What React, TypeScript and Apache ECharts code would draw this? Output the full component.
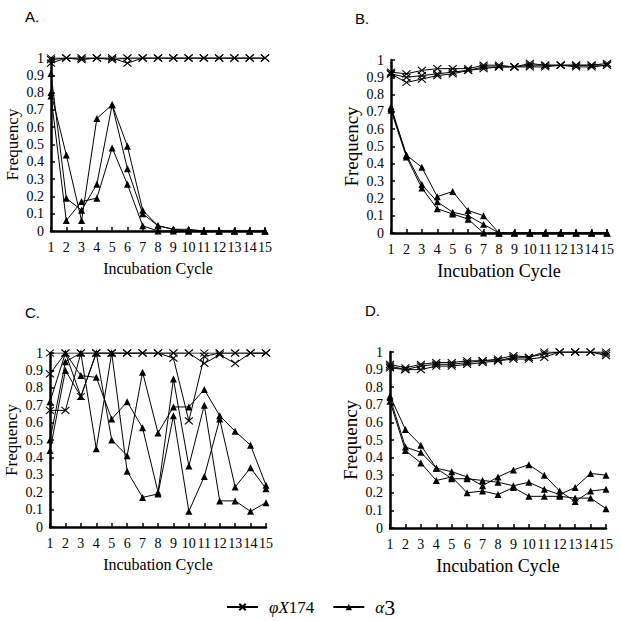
import React, { useEffect, useRef } from "react";
import * as echarts from "echarts";

const cycles = [1, 2, 3, 4, 5, 6, 7, 8, 9, 10, 11, 12, 13, 14, 15];
const panelLabels = ["A.", "B.", "C.", "D."];
const xTitle = "Incubation Cycle";
const yTitle = "Frequency";
const phiName = "φX174";
const alphaName = "α3";

// Panel A
const A_phi1 = [0.97, 1, 1, 1, 1, 1, 1, 1, 1, 1, 1, 1, 1, 1, 1];
const A_phi2 = [1, 1, 1, 1, 1, 0.97, 1, 1, 1, 1, 1, 1, 1, 1, 1];
const A_phi3 = [0.99, 1, 0.99, 1, 0.99, 1, 1, 1, 1, 1, 1, 1, 1, 1, 1];
const A_a1 = [0.91, 0.19, 0.12, 0.27, 0.73, 0.36, 0.1, 0.03, 0.01, 0.01, 0, 0, 0, 0, 0];
const A_a2 = [0.8, 0.44, 0.06, 0.65, 0.73, 0.49, 0.12, 0.03, 0.01, 0, 0, 0, 0, 0, 0];
const A_a3 = [0.78, 0.06, 0.17, 0.19, 0.48, 0.27, 0.03, 0.0, 0, 0, 0, 0, 0, 0, 0];

// Panel B
const B_phi1 = [0.93, 0.92, 0.94, 0.95, 0.95, 0.95, 0.97, 0.97, 0.96, 0.98, 0.97, 0.97, 0.97, 0.97, 0.98];
const B_phi2 = [0.92, 0.9, 0.91, 0.92, 0.93, 0.94, 0.96, 0.96, 0.96, 0.97, 0.97, 0.97, 0.97, 0.97, 0.97];
const B_phi3 = [0.92, 0.87, 0.89, 0.91, 0.92, 0.94, 0.95, 0.96, 0.96, 0.96, 0.96, 0.97, 0.96, 0.96, 0.97];
const B_a1 = [0.73, 0.45, 0.38, 0.21, 0.24, 0.13, 0.1, 0, 0, 0, 0, 0, 0, 0, 0];
const B_a2 = [0.72, 0.45, 0.28, 0.18, 0.12, 0.1, 0.05, 0, 0, 0, 0, 0, 0, 0, 0];
const B_a3 = [0.71, 0.44, 0.26, 0.14, 0.11, 0.08, 0, 0, 0, 0, 0, 0, 0, 0, 0];

// Panel C
const C_phi1 = [0.88, 1, 0.75, 1, 1, 1, 1, 1, 0.97, 0.61, 0.98, 1, 1, 1, 1];
const C_phi2 = [1, 1, 1, 1, 1, 1, 1, 1, 1, 1, 0.94, 0.99, 0.94, 1, 1];
const C_phi3 = [0.67, 0.67, 1, 1, 1, 1, 1, 1, 1, 1, 1, 1, 1, 1, 1];
const C_a1 = [0.44, 0.9, 0.75, 1, 0.5, 0.41, 0.89, 0.54, 0.69, 0.69, 0.79, 0.64, 0.55, 0.47, 0.24];
const C_a2 = [0.72, 1, 0.87, 0.86, 0.62, 0.72, 0.57, 0.2, 0.85, 0.35, 0.7, 0.15, 0.15, 0.09, 0.14];
const C_a3 = [0.5, 0.95, 1, 0.45, 1, 0.32, 0.17, 0.19, 0.64, 0.09, 0.29, 0.62, 0.23, 0.34, 0.22];

// Panel D
const D_phi1 = [0.93, 0.91, 0.93, 0.94, 0.94, 0.95, 0.95, 0.96, 0.98, 0.97, 1, 1, 1, 1, 1];
const D_phi2 = [0.92, 0.9, 0.92, 0.93, 0.93, 0.94, 0.95, 0.95, 0.97, 0.97, 0.99, 1, 1, 1, 0.99];
const D_phi3 = [0.91, 0.9, 0.9, 0.92, 0.92, 0.93, 0.94, 0.95, 0.96, 0.96, 0.97, 1, 1, 1, 0.98];
const D_a1 = [0.75, 0.56, 0.47, 0.34, 0.32, 0.29, 0.24, 0.29, 0.33, 0.36, 0.3, 0.21, 0.15, 0.21, 0.22];
const D_a2 = [0.74, 0.46, 0.43, 0.34, 0.28, 0.28, 0.27, 0.26, 0.24, 0.26, 0.22, 0.19, 0.23, 0.31, 0.3];
const D_a3 = [0.72, 0.44, 0.37, 0.27, 0.29, 0.2, 0.21, 0.19, 0.23, 0.18, 0.18, 0.18, 0.17, 0.17, 0.11];

const panels = [
  { phi: [A_phi1, A_phi2, A_phi3], alpha: [A_a1, A_a2, A_a3] },
  { phi: [B_phi1, B_phi2, B_phi3], alpha: [B_a1, B_a2, B_a3] },
  { phi: [C_phi1, C_phi2, C_phi3], alpha: [C_a1, C_a2, C_a3] },
  { phi: [D_phi1, D_phi2, D_phi3], alpha: [D_a1, D_a2, D_a3] },
];

const grids = [
  { left: 51, top: 58, width: 214, height: 173 },
  { left: 391, top: 60, width: 216, height: 173 },
  { left: 50, top: 353, width: 216, height: 174 },
  { left: 390, top: 352, width: 216, height: 176 },
];
const titlePos = [
  { left: 20, top: 4 },
  { left: 350, top: 6 },
  { left: 20, top: 300 },
  { left: 360, top: 298 },
];
const xNameSize = [16, 18, 16, 18];
const yNameSize = [17, 19, 17, 19];

const SERIF = "'Liberation Serif', 'Times New Roman', serif";
const X_SYMBOL = "path://M0,0L10,10M10,0L0,10";

export default function App() {
  const ref = useRef<HTMLDivElement>(null);
  useEffect(() => {
    if (!ref.current) return;
    const chart = echarts.init(ref.current, null, { renderer: "svg" });
    const series: any[] = [];
    panels.forEach((p, gi) => {
      p.phi.forEach((arr) => {
        series.push({
          type: "line",
          name: phiName,
          xAxisIndex: gi,
          yAxisIndex: gi,
          data: arr.map((v, i) => [cycles[i], v]),
          symbol: X_SYMBOL,
          symbolSize: [8, 7],
          lineStyle: { color: "#000", width: 1 },
          itemStyle: { color: "#000", borderColor: "#000", borderWidth: 1.1 },
          z: 3,
        });
      });
      p.alpha.forEach((arr) => {
        series.push({
          type: "line",
          name: alphaName,
          xAxisIndex: gi,
          yAxisIndex: gi,
          data: arr.map((v, i) => [cycles[i], v]),
          symbol: "triangle",
          symbolSize: 7,
          lineStyle: { color: "#000", width: 1 },
          itemStyle: { color: "#000" },
          z: 2,
        });
      });
    });

    const option: any = {
      animation: false,
      backgroundColor: "#fff",
      title: panelLabels.map((t, i) => ({
        text: t,
        left: titlePos[i].left,
        top: titlePos[i].top,
        textStyle: { fontFamily: "'Liberation Sans', Arial, sans-serif", fontSize: 15, fontWeight: "normal", color: "#000" },
      })),
      grid: grids.map((g) => ({ ...g, containLabel: false })),
      xAxis: grids.map((_, i) => ({
        type: "value",
        gridIndex: i,
        min: 1,
        max: 15,
        interval: 1,
        name: xTitle,
        nameLocation: "middle",
        nameGap: 29,
        nameTextStyle: { fontFamily: SERIF, fontSize: xNameSize[i], color: "#000" },
        axisLine: { lineStyle: { color: "#000", width: 2.5 } },
        axisTick: { inside: true, length: 4, lineStyle: { color: "#000", width: 1.5 } },
        axisLabel: { fontFamily: SERIF, fontSize: 14, color: "#000", margin: 9, hideOverlap: false },
        splitLine: { show: false },
      })),
      yAxis: grids.map((_, i) => ({
        type: "value",
        gridIndex: i,
        min: 0,
        max: 1,
        interval: 0.1,
        name: yTitle,
        nameLocation: "middle",
        nameGap: 30,
        nameTextStyle: { fontFamily: SERIF, fontSize: yNameSize[i], color: "#000" },
        axisLine: { show: true, lineStyle: { color: "#000", width: 2.5 } },
        axisTick: { show: true, inside: true, length: 4, lineStyle: { color: "#000", width: 1.5 } },
        axisLabel: {
          fontFamily: SERIF,
          fontSize: 14,
          color: "#000",
          margin: 7,
          formatter: (v: number) => String(Math.round(v * 10) / 10),
        },
        splitLine: { show: false },
      })),
      legend: {
        left: 221,
        top: 591,
        itemWidth: 31,
        itemHeight: 8,
        itemGap: 18,
        data: [phiName, alphaName],
        formatter: (name: string) => (name === phiName ? "{i|φX}{n|174}" : "{i|α}{m|3}"),
        textStyle: {
          color: "#000",
          fontFamily: SERIF,
          rich: {
            i: { fontFamily: SERIF, fontStyle: "italic", fontSize: 17, color: "#000", padding: [0, 0, 0, 6] },
            n: { fontFamily: SERIF, fontSize: 17, color: "#000" },
            m: { fontFamily: SERIF, fontSize: 22, color: "#000" },
          },
        },
      },
      series,
    };
    chart.setOption(option);
    return () => chart.dispose();
  }, []);
  return (
    <div
      ref={ref}
      style={{ position: "fixed", left: 0, top: 0, width: 621, height: 621, background: "#fff" }}
    />
  );
}
